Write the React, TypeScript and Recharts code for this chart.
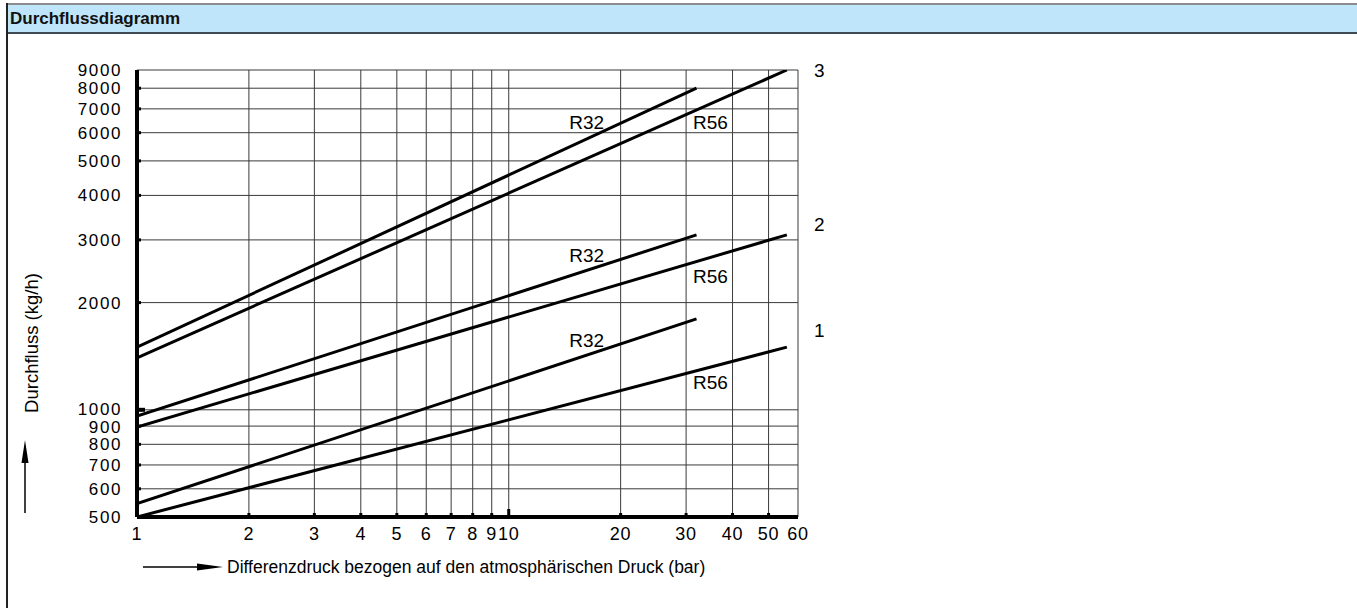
import React from 'react';
import { LineChart, Line, XAxis, YAxis, CartesianGrid, ReferenceDot } from 'recharts';

// Tick values
const xTicks = [1, 2, 3, 4, 5, 6, 7, 8, 9, 10, 20, 30, 40, 50, 60];
const yTicks = [500, 600, 700, 800, 900, 1000, 2000, 3000, 4000, 5000, 6000, 7000, 8000, 9000];

// Series (x: Differenzdruck bar, y: Durchfluss kg/h)
const r32Size3 = [{ x: 1, y: 1500 }, { x: 32, y: 8000 }];
const r56Size3 = [{ x: 1, y: 1400 }, { x: 56, y: 9000 }];
const r32Size2 = [{ x: 1, y: 960 }, { x: 32, y: 3100 }];
const r56Size2 = [{ x: 1, y: 895 }, { x: 56, y: 3100 }];
const r32Size1 = [{ x: 1, y: 545 }, { x: 32, y: 1800 }];
const r56Size1 = [{ x: 1, y: 500 }, { x: 56, y: 1500 }];

const seriesList = [r32Size3, r56Size3, r32Size2, r56Size2, r32Size1, r56Size1];

// Labels placed in data coordinates
const seriesLabels = [
  { text: 'R32', x: 16.2, y: 6400 },
  { text: 'R56', x: 34.9, y: 6400 },
  { text: 'R32', x: 16.2, y: 2720 },
  { text: 'R56', x: 34.9, y: 2370 },
  { text: 'R32', x: 16.2, y: 1570 },
  { text: 'R56', x: 34.9, y: 1195 },
];
const groupLabels = [
  { text: '3', x: 68.5, y: 8960 },
  { text: '2', x: 68.5, y: 3320 },
  { text: '1', x: 68.5, y: 1676 },
];

const FONT = '"Liberation Sans", Arial, Helvetica, sans-serif';

const XTick = (props: any) => {
  const { x, y, payload } = props;
  const v = payload.value;
  const showNub = v !== 1 && v !== 60;
  const nubH = v === 10 ? 8 : 4;
  return (
    <g>
      {showNub && <rect x={x - 1.5} y={y - nubH} width={3} height={nubH} fill="#000" />}
      <text x={x} y={y + 23} textAnchor="middle" fontSize={18} letterSpacing={0.8} fontFamily={FONT} fill="#000">
        {v}
      </text>
    </g>
  );
};

const YTick = (props: any) => {
  const { x, y, payload } = props;
  const v = payload.value;
  const showNub = v !== 500 && v !== 9000;
  const nubW = v === 1000 ? 8 : 4;
  const nubH = v === 1000 ? 4 : 3;
  const nudge = v === 1000 ? -1.2 : v === 900 ? 1.2 : 0;
  return (
    <g>
      {showNub && <rect x={x} y={y - nubH / 2} width={nubW} height={nubH} fill="#000" />}
      <text x={x - 15} y={y + 6 + nudge} textAnchor="end" fontSize={17} letterSpacing={1.6} fontFamily={FONT} fill="#000">
        {v}
      </text>
    </g>
  );
};

export default function App() {
  return (
    <div style={{ position: 'absolute', left: 0, top: 0, width: 1357, height: 608, background: '#fff', fontFamily: FONT, overflow: 'hidden' }}>
      {/* header bar */}
      <div
        style={{
          position: 'absolute',
          left: 6,
          top: 3,
          width: 1351,
          height: 27,
          background: '#bee5f9',
          borderTop: '2px solid #8c8c8c',
          borderBottom: '2px solid #3f4a52',
          boxSizing: 'content-box',
        }}
      >
        <div style={{ position: 'absolute', left: 4, top: 4, fontWeight: 'bold', fontSize: 17, color: '#111', lineHeight: '20px' }}>
          Durchflussdiagramm
        </div>
      </div>
      {/* left border */}
      <div style={{ position: 'absolute', left: 6, top: 3, width: 2, height: 605, background: '#222' }} />

      <div style={{ position: 'absolute', left: 0, top: 0 }}>
        <LineChart width={1357} height={608} margin={{ top: 70, right: 559, bottom: 61, left: 57 }}>
          <CartesianGrid stroke="#3a3a3a" strokeWidth={1} />
          <XAxis
            dataKey="x"
            type="number"
            scale="log"
            domain={[1, 60]}
            ticks={xTicks}
            interval={0}
            allowDataOverflow
            height={30}
            tickSize={0}
            tickMargin={0}
            axisLine={{ stroke: '#000', strokeWidth: 4 }}
            tick={<XTick />}
          />
          <YAxis
            dataKey="y"
            type="number"
            scale="log"
            domain={[500, 9000]}
            ticks={yTicks}
            interval={0}
            allowDataOverflow
            width={80}
            tickSize={0}
            tickMargin={0}
            axisLine={{ stroke: '#000', strokeWidth: 4 }}
            tick={<YTick />}
          />
          {seriesList.map((d, i) => (
            <Line
              key={i}
              data={d}
              dataKey="y"
              type="linear"
              stroke="#000"
              strokeWidth={3}
              dot={false}
              activeDot={false}
              isAnimationActive={false}
            />
          ))}
          {seriesLabels.map((l, i) => (
            <ReferenceDot
              key={'s' + i}
              x={l.x}
              y={l.y}
              r={0}
              ifOverflow="visible"
              stroke="none"
              fill="none"
              label={{ value: l.text, position: 'center', fontSize: 19, fill: '#000', fontFamily: FONT }}
            />
          ))}
          {groupLabels.map((l, i) => (
            <ReferenceDot
              key={'g' + i}
              x={l.x}
              y={l.y}
              r={0}
              ifOverflow="visible"
              stroke="none"
              fill="none"
              label={{ value: l.text, position: 'center', fontSize: 19, fill: '#000', fontFamily: FONT }}
            />
          ))}
        </LineChart>
      </div>

      {/* axis titles with arrows */}
      <svg width={1357} height={608} style={{ position: 'absolute', left: 0, top: 0, pointerEvents: 'none' }}>
        <line x1={143} y1={567} x2={205} y2={567} stroke="#000" strokeWidth={1.5} />
        <polygon points="197,563.5 223,567 197,570.5" fill="#000" />
        <text x={227} y={573} fontSize={17.5} fontFamily={FONT} fill="#000">
          Differenzdruck bezogen auf den atmosphärischen Druck (bar)
        </text>

        <line x1={25} y1={513} x2={25} y2={455} stroke="#000" strokeWidth={1.5} />
        <polygon points="21.5,463 25,440 28.5,463" fill="#000" />
        <text x={38} y={343} fontSize={18.5} fontFamily={FONT} fill="#000" textAnchor="middle" transform="rotate(-90 38 343)">
          Durchfluss (kg/h)
        </text>
      </svg>
    </div>
  );
}
